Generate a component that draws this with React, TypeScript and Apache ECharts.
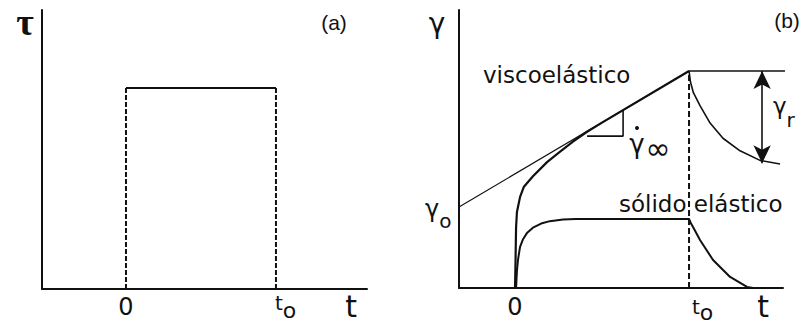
import React, { useEffect, useRef } from "react";
import * as echarts from "echarts";

// Panel (a): stress step tau(t), t in units of t_o, tau in units of the step height
const stepTop: number[][] = [[0, 1], [1, 1]];
const stepLeft: number[][] = [[0, 0], [0, 1]];
const stepRight: number[][] = [[1, 0], [1, 1]];

// Panel (b): strain gamma(t), gamma in units of gamma at t_o
const tangent: number[][] = [[-0.322, 0.373], [1, 1]];
const viscoCreep: number[][] = [
  [0, 0], [0.003, 0.13], [0.006, 0.28], [0.011, 0.35], [0.029, 0.42], [0.05, 0.465],
  [0.103, 0.515], [0.184, 0.58], [0.259, 0.628], [0.333, 0.675], [0.414, 0.72],
  [0.5, 0.762], [1, 1],
];
const viscoHold: number[][] = [[1, 1], [1.58, 1]];
const viscoRecovery: number[][] = [
  [1, 1], [1.008, 0.95], [1.025, 0.9], [1.063, 0.84], [1.121, 0.76], [1.195, 0.69],
  [1.293, 0.632], [1.408, 0.588], [1.523, 0.571],
];
const elastic: number[][] = [
  [0.006, 0], [0.011, 0.08], [0.017, 0.13], [0.029, 0.19], [0.046, 0.225], [0.07, 0.255],
  [0.103, 0.278], [0.15, 0.297], [0.2, 0.308], [0.276, 0.316], [0.35, 0.318], [1, 0.318],
  [1.01, 0.3], [1.023, 0.281], [1.063, 0.221], [1.138, 0.129], [1.236, 0.051],
  [1.333, 0.005], [1.368, 0],
];
const releaseLine: number[][] = [[1, 0], [1, 1]];
const slopeTriangle: number[][] = [[0.414, 0.7], [0.621, 0.7], [0.621, 0.82]];
const recoveredX = 1.42;
const recoveredTop = 1;
const recoveredBottom = 0.575;

const F = "'DejaVu Sans', sans-serif";
const K = "#111";

function txt(text: string, x: number, y: number, size: number, font = F, weight = "normal", align = "center") {
  return {
    type: "text",
    x,
    y,
    silent: true,
    style: {
      text,
      font: `${weight} ${size}px ${font}`,
      fill: K,
      textAlign: align,
      textVerticalAlign: "middle",
    },
  };
}

// base letter with a lowered suffix, as one rich text
function sub(base: string, s: string, left: number, center: number, lh: number, bs: number, ss: number) {
  return {
    type: "text",
    x: left,
    y: center,
    silent: true,
    style: {
      text: `{a|${base}}{b|${s}}`,
      fill: K,
      fontFamily: F,
      textAlign: "left",
      textVerticalAlign: "middle",
      lineHeight: lh,
      rich: {
        a: { fontSize: bs, fontFamily: F, fill: K, verticalAlign: "top" },
        b: { fontSize: ss, fontFamily: F, fill: K, verticalAlign: "bottom" },
      },
    },
  };
}

function line(data: number[][], axis: number, width: number, dashed: any = "solid", clip = true) {
  return {
    type: "line",
    xAxisIndex: axis,
    yAxisIndex: axis,
    data,
    showSymbol: false,
    symbol: "none",
    clip,
    silent: true,
    lineStyle: { color: K, width, type: dashed },
  };
}

export default function App() {
  const ref = useRef<HTMLDivElement>(null);
  useEffect(() => {
    if (!ref.current) return;
    const chart = echarts.init(ref.current, null, { renderer: "svg" });
    const axisCommon = {
      type: "value",
      axisLine: { show: true, onZero: false, lineStyle: { color: K, width: 2 } },
      axisTick: { show: false },
      axisLabel: { show: false },
      splitLine: { show: false },
    };
    const arrowSeries: any = {
      ...line([[recoveredX, recoveredTop]], 1, 0),
      markLine: {
        silent: true,
        symbol: ["arrow", "arrow"],
        symbolSize: [13, 18],
        label: { show: false },
        lineStyle: { color: K, width: 1.6, type: "solid" },
        data: [[{ coord: [recoveredX, recoveredTop] }, { coord: [recoveredX, recoveredBottom] }]],
      },
    };
    chart.setOption({
      animation: false,
      backgroundColor: "#fff",
      grid: [
        { left: 42, top: 10, width: 325, height: 279 },
        { left: 459, top: 10, width: 324, height: 278 },
      ],
      xAxis: [
        { ...axisCommon, gridIndex: 0, min: -0.56, max: 1.607 },
        { ...axisCommon, gridIndex: 1, min: -0.322, max: 1.54 },
      ],
      yAxis: [
        { ...axisCommon, gridIndex: 0, min: 0, max: 1.388 },
        { ...axisCommon, gridIndex: 1, min: 0, max: 1.281 },
      ],
      series: [
        line(stepTop, 0, 2),
        line(stepLeft, 0, 2, [5, 2]),
        line(stepRight, 0, 2, [5, 2]),
        line(tangent, 1, 1.2),
        line(viscoCreep, 1, 2.2),
        line(viscoHold, 1, 1.5, "solid", false),
        line(viscoRecovery, 1, 1.6),
        line(elastic, 1, 2),
        line(releaseLine, 1, 2, [6, 3]),
        line(slopeTriangle, 1, 1.6),
        arrowSeries,
      ],
      graphic: [
        txt("τ", 25, 22, 38, "'Liberation Serif', serif", "bold"),
        txt("(a)", 334, 22, 21, "'Liberation Sans', sans-serif"),
        txt("0", 126, 307, 24),
        sub("t", "o", 275, 307, 29, 20, 22),
        txt("t", 351, 306, 30),
        txt("γ", 437, 23, 28),
        txt("(b)", 787, 20, 21, "'Liberation Sans', sans-serif"),
        txt("viscoelástico", 483, 75, 23, F, "normal", "left"),
        txt("sólido elástico", 619, 204, 23, F, "normal", "left"),
        sub("γ", "o", 425, 214, 34, 24, 20),
        sub("γ", "r", 773, 112, 36, 23, 20),
        txt("γ", 637, 144, 26),
        { type: "circle", silent: true, shape: { cx: 637, cy: 128, r: 2 }, style: { fill: K } },
        txt("∞", 658, 148, 30),
        txt("0", 515, 307, 24),
        sub("t", "o", 692, 310, 26, 20, 22),
        txt("t", 763, 306, 30),
      ],
    });
    return () => chart.dispose();
  }, []);
  return (
    <div
      ref={ref}
      style={{ position: "fixed", left: 0, top: 0, width: 809, height: 325, background: "#fff" }}
    />
  );
}
